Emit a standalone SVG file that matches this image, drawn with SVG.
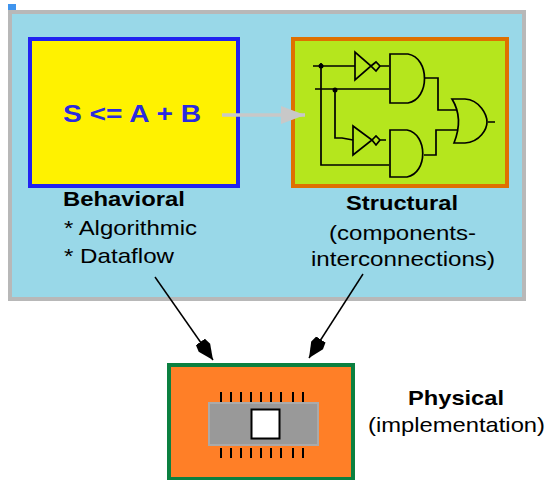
<svg xmlns="http://www.w3.org/2000/svg" width="546" height="480" viewBox="0 0 546 480">
<style>
text{font-family:"Liberation Sans",Arial,sans-serif;fill:#000}
.b{font-weight:bold;font-size:21px}
.r{font-size:21px}
.w{fill:none;stroke:#000;stroke-width:1.7}
.pin{stroke:#000;stroke-width:2;fill:none}
</style>
<defs>
<marker id="blk" markerUnits="userSpaceOnUse" markerWidth="24" markerHeight="18" refX="22" refY="9" orient="auto"><path d="M0 3.500L7 2L22 9L7 16L0 14.500Z" fill="#000"/></marker>
<marker id="gry" markerUnits="userSpaceOnUse" markerWidth="26" markerHeight="22" refX="24" refY="11" orient="auto"><path d="M0 2L24 11L0 20Z" fill="#c8c8c8"/></marker>
</defs>
<rect width="546" height="480" fill="#fff"/>
<rect x="8" y="4" width="8" height="6" fill="#3f94ee"/>
<g id="abstraction-panel"><rect x="10" y="12" width="514" height="287" fill="#99d8e8" stroke="#b8b8b8" stroke-width="4"/></g>
<g id="behavioral">
<rect x="30" y="39" width="208" height="147" fill="#fff200" stroke="#2222f0" stroke-width="4"/>
<text x="63" y="122" font-size="24" font-weight="bold" style="fill:#2a2ae0" textLength="138" lengthAdjust="spacingAndGlyphs">S &lt;= A + B</text>
<text class="b" x="63" y="206" textLength="122" lengthAdjust="spacingAndGlyphs">Behavioral</text>
<text class="r" x="64" y="235" textLength="133" lengthAdjust="spacingAndGlyphs">* Algorithmic</text>
<text class="r" x="64" y="263" textLength="110" lengthAdjust="spacingAndGlyphs">* Dataflow</text>
</g>
<g id="structural">
<rect x="293" y="39" width="214" height="147" fill="#b5e61d" stroke="#df7000" stroke-width="4"/>
<g class="w">
<path d="M313 66H355M315 89H389M321 63V165H389M335 89V138H342L353 140"/>
<path d="M355 52V80L371 66ZM371 66L376 62L380 66L376 71ZM380 66H389"/>
<path d="M353 126V155L372 140ZM372 140L376 136L380 140L376 145ZM380 140H386"/>
<path d="M390 54H408C430 58 430 99 408 103H390Z"/>
<path d="M390 130H407C428 134 428 173 407 177H390Z"/>
<path d="M424 78H438V110H457M424 155H436V130H457"/>
<path d="M452 99H465C480 100 487 115 487 122C487 129 480 142 465 143H454C460 128 460 112 452 99ZM488 122H495"/>
</g>
<circle cx="321" cy="66" r="2.500"/><circle cx="335" cy="90" r="2.500"/>
<text class="b" x="346" y="210" textLength="112" lengthAdjust="spacingAndGlyphs">Structural</text>
<text class="r" x="329" y="240" textLength="147" lengthAdjust="spacingAndGlyphs">(components-</text>
<text class="r" x="311" y="266" textLength="184" lengthAdjust="spacingAndGlyphs">interconnections)</text>
</g>
<g id="physical">
<rect x="169" y="365" width="184" height="114" fill="#ff7f27" stroke="#0b8040" stroke-width="4"/>
<rect x="209" y="403" width="109" height="42" fill="#999" stroke="#aaa" stroke-width="2"/>
<rect x="251.500" y="409.500" width="28" height="29" fill="#fff" stroke="#000" stroke-width="2"/>
<path class="pin" d="M221 392V402M231 392V402M241 392V402M251 392V402M261 392V402M271 392V402M281 392V402M293 392V402M303 392V402M221 448V458M231 448V458M241 448V458M251 448V458M261 448V458M271 448V458M281 448V458M293 448V458M303 448V458"/>
<text class="b" x="408" y="405" textLength="96" lengthAdjust="spacingAndGlyphs">Physical</text>
<text class="r" x="368" y="432" textLength="177" lengthAdjust="spacingAndGlyphs">(implementation)</text>
</g>
<g id="connectors" fill="none">
<path d="M222 115H305" stroke="#c8c8c8" stroke-width="3.500" marker-end="url(#gry)"/>
<path d="M155 277L213 360" stroke="#000" stroke-width="1.500" marker-end="url(#blk)"/>
<path d="M363 274L309 358" stroke="#000" stroke-width="1.500" marker-end="url(#blk)"/>
</g>
</svg>
